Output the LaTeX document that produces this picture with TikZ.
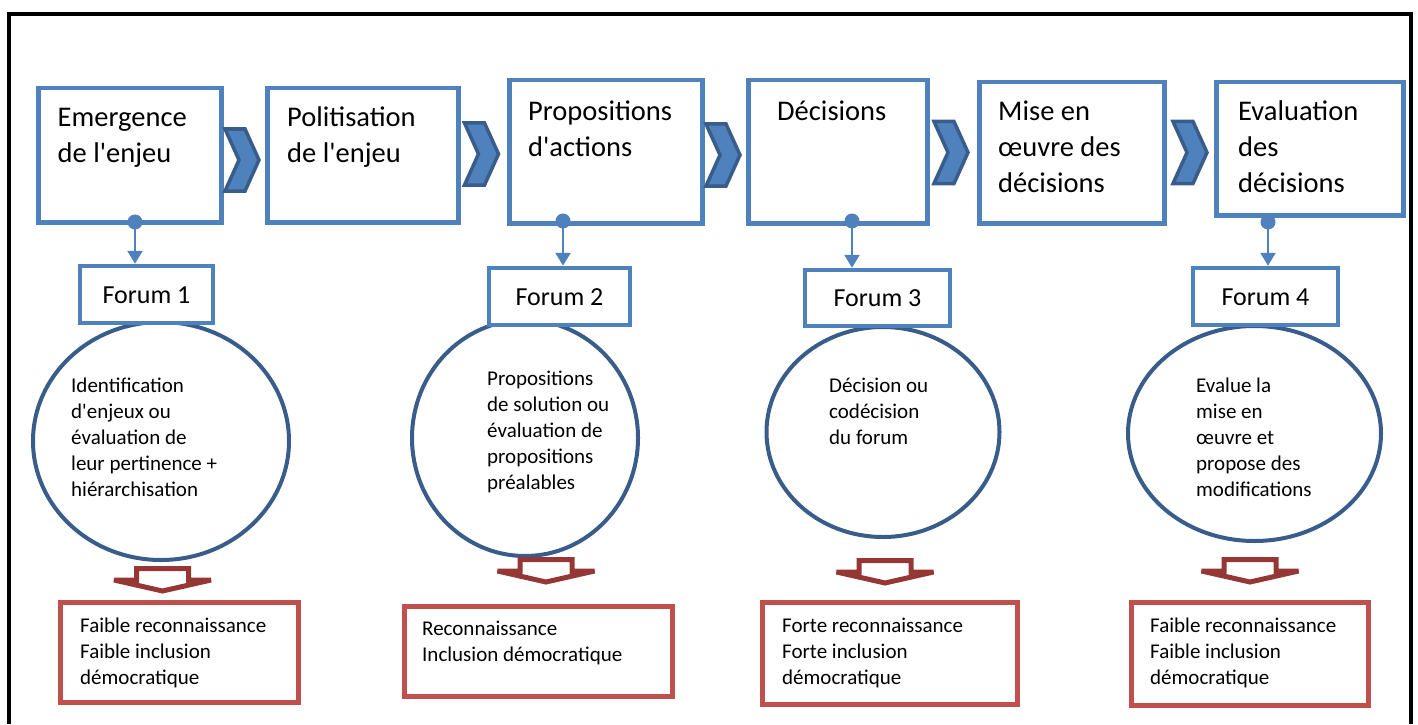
\documentclass[tikz,border=0pt]{standalone}
\usepackage{fontspec}
\setmainfont{Carlito}[Ligatures=TeXOff]
\usetikzlibrary{arrows.meta,shapes.geometric}

\definecolor{procblue}{RGB}{79,129,189}
\definecolor{darkblue}{RGB}{56,93,138}
\definecolor{outred}{RGB}{192,80,77}
\definecolor{arrowred}{RGB}{149,55,53}

\tikzset{
  stagebox/.style={draw=procblue, line width=4.5bp, fill=white, rectangle, inner sep=0, anchor=north west},
  stagetext/.style={anchor=north west, inner sep=0, align=left, font=\fontsize{28.5bp}{36bp}\selectfont},
  forumbox/.style={draw=procblue, line width=4.5bp, fill=white, rectangle, inner sep=0,
    text height=17bp, text depth=0bp, font=\fontsize{26bp}{31bp}\selectfont},
  forumring/.style={draw=darkblue, line width=4bp, ellipse, inner sep=0},
  smalltext/.style={anchor=north west, inner sep=0, align=left, font=\fontsize{21bp}{26bp}\selectfont},
  outcomebox/.style={draw=outred, line width=5bp, rectangle, inner sep=0, anchor=north west},
  link/.style={draw=procblue, line width=2.5bp, -{Triangle[length=13bp,width=15bp]}},
  dotstyle/.style={fill=procblue},
  pics/chevron/.style={code={
    \draw[fill=procblue, draw=darkblue, line width=3.5bp]
      (-17,-31) -- (3,-31) -- (17,0) -- (3,31) -- (-17,31) -- (-3,0) -- cycle;}},
  pics/downarrow/.style={code={
    \draw[draw=arrowred, fill=white, line width=5bp, miter limit=2]
      (-26,2.5) -- (26,2.5) -- (26,14) -- (48.5,14) -- (0,25) -- (-48.5,14) -- (-26,14) -- cycle;}},
}

\begin{document}
\begin{tikzpicture}[x=1bp,y=-1bp]
\useasboundingbox (0,0) rectangle (1418,724);

% outer frame, open at the bottom
\draw[black, line width=4.5bp] (9,724) -- (9,14) -- (1411,14) -- (1411,724);

% policy stages
\node[stagebox, minimum width=183bp, minimum height=134bp] (b1) at (36,86) {};
\node[stagebox, minimum width=191bp, minimum height=134bp] (b2) at (265,86) {};
\node[stagebox, minimum width=193bp, minimum height=143bp] (b3) at (507,78) {};
\node[stagebox, minimum width=179bp, minimum height=143bp] (b4) at (746,78) {};
\node[stagebox, minimum width=185bp, minimum height=141bp] (b5) at (977,80) {};
\node[stagebox, minimum width=187bp, minimum height=133bp] (b6) at (1214,80) {};

\node[stagetext] (t1) at (57.5,100.8) {\strut Emergence\\de l'enjeu};
\node[stagetext] (t2) at (287,100.8) {\strut Politisation\\de l'enjeu};
\node[stagetext] (t3) at (528,94.8) {\strut Propositions\\d'actions};
\node[stagetext] (t4) at (777,94.8) {\strut Décisions};
\node[stagetext] (t5) at (998,94.8) {\strut Mise en\\œuvre des\\décisions};
\node[stagetext] (t6) at (1238,94.8) {\strut Evaluation\\des\\décisions};

% chevrons between stages
\pic at (242,160) {chevron};
\pic at (481.5,154) {chevron};
\pic at (723,155) {chevron};
\pic at (951,152.5) {chevron};
\pic at (1190,152.5) {chevron};

% forum discussions
\node[forumring, minimum width=256bp, minimum height=238bp] (e1) at (161,441) {};
\node[forumring, minimum width=226bp, minimum height=236bp] (e2) at (525,438) {};
\node[forumring, minimum width=233bp, minimum height=210bp] (e3) at (883,432) {};
\node[forumring, minimum width=253bp, minimum height=215bp] (e4) at (1254.5,433.5) {};

\node[smalltext] (s1) at (71,373.8) {\strut Identification\\d'enjeux ou\\évaluation de\\leur pertinence +\\hiérarchisation};
\node[smalltext] (s2) at (487,366.8) {\strut Propositions\\de solution ou\\évaluation de\\propositions\\préalables};
\node[smalltext] (s3) at (829,373.8) {\strut Décision ou\\codécision\\du forum};
\node[smalltext] (s4) at (1196,373.8) {\strut Evalue la\\mise en\\œuvre et\\propose des\\modifications};

% forum labels
\node[forumbox, minimum width=133bp, minimum height=57bp] (f1) at (146.5,294.5) {Forum 1};
\node[forumbox, minimum width=141bp, minimum height=57bp] (f2) at (559.5,296.5) {Forum 2};
\node[forumbox, minimum width=145bp, minimum height=56bp] (f3) at (877.5,298) {Forum 3};
\node[forumbox, minimum width=145bp, minimum height=57bp] (f4) at (1265.5,296.5) {Forum 4};

% links from stages to forums
\coordinate (d1) at (135,222);
\coordinate (d2) at (563,221);
\coordinate (d3) at (852,221);
\coordinate (d4) at (1268,222);
\foreach \d/\f in {d1/f1, d2/f2, d3/f3, d4/f4} {
  \draw[link] (\d) -- (\d |- \f.north);
  \fill[dotstyle] (\d) circle (7.5bp);
}

% outcomes
\pic at (162.5,566) {downarrow};
\pic at (546,557) {downarrow};
\pic at (885,558) {downarrow};
\pic at (1250,557) {downarrow};

\node[outcomebox, minimum width=238bp, minimum height=100bp] (r1) at (58,600) {};
\node[outcomebox, minimum width=268bp, minimum height=90bp] (r2) at (402,604) {};
\node[outcomebox, minimum width=255bp, minimum height=102bp] (r3) at (760,600) {};
\node[outcomebox, minimum width=237bp, minimum height=103bp] (r4) at (1129,600) {};

\node[smalltext] (o1) at (80,613.8) {\strut Faible reconnaissance\\Faible inclusion\\démocratique};
\node[smalltext] (o2) at (422,616.8) {\strut Reconnaissance\\Inclusion démocratique};
\node[smalltext] (o3) at (782,613.8) {\strut Forte reconnaissance\\Forte inclusion\\démocratique};
\node[smalltext] (o4) at (1150,613.8) {\strut Faible reconnaissance\\Faible inclusion\\démocratique};
\end{tikzpicture}
\end{document}
